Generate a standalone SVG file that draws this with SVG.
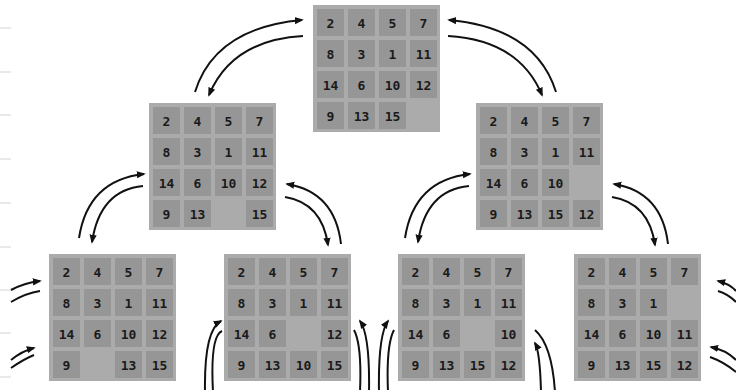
<svg xmlns="http://www.w3.org/2000/svg" width="736" height="390" viewBox="0 0 736 390">
<style>
.b{fill:#ababab}
.t{fill:#969696}
text{font-family:"DejaVu Sans Mono","Liberation Mono",monospace;font-weight:bold;font-size:13px;fill:#1a1a1a;text-anchor:middle}
.c{fill:none;stroke:#111;stroke-width:2}
.e{stroke:#d4d4d4;stroke-width:1}
</style>
<defs>
<marker id="ah" viewBox="0 0 10 10" refX="8" refY="5" markerWidth="9" markerHeight="9" orient="auto" markerUnits="userSpaceOnUse"><path d="M0,1 L10,5 L0,9 z" fill="#111"/></marker>
</defs>
<rect width="736" height="390" fill="#fff"/>
<g id="edge">
<line class="e" x1="0" y1="28" x2="11" y2="28"/><line class="e" x1="0" y1="72" x2="11" y2="72"/><line class="e" x1="0" y1="115" x2="11" y2="115"/><line class="e" x1="0" y1="159" x2="11" y2="159"/><line class="e" x1="0" y1="203" x2="11" y2="203"/><line class="e" x1="0" y1="247" x2="11" y2="247"/><line class="e" x1="0" y1="290" x2="11" y2="290"/><line class="e" x1="0" y1="333" x2="11" y2="333"/><line class="e" x1="0" y1="377" x2="11" y2="377"/>
</g>
<g id="top" transform="translate(313,5)">
<rect class="b" width="127" height="127"/>
<rect class="t" x="4" y="4" width="27" height="27"/><rect class="t" x="35" y="4" width="27" height="27"/><rect class="t" x="66" y="4" width="27" height="27"/><rect class="t" x="97" y="4" width="27" height="27"/>
<rect class="t" x="4" y="35" width="27" height="27"/><rect class="t" x="35" y="35" width="27" height="27"/><rect class="t" x="66" y="35" width="27" height="27"/><rect class="t" x="97" y="35" width="27" height="27"/>
<rect class="t" x="4" y="66" width="27" height="27"/><rect class="t" x="35" y="66" width="27" height="27"/><rect class="t" x="66" y="66" width="27" height="27"/><rect class="t" x="97" y="66" width="27" height="27"/>
<rect class="t" x="4" y="97" width="27" height="27"/><rect class="t" x="35" y="97" width="27" height="27"/><rect class="t" x="66" y="97" width="27" height="27"/>
<text x="17.5" y="22.5">2</text><text x="48.5" y="22.5">4</text><text x="79.5" y="22.5">5</text><text x="110.5" y="22.5">7</text>
<text x="17.5" y="53.5">8</text><text x="48.5" y="53.5">3</text><text x="79.5" y="53.5">1</text><text x="110.5" y="53.5">11</text>
<text x="17.5" y="84.5">14</text><text x="48.5" y="84.5">6</text><text x="79.5" y="84.5">10</text><text x="110.5" y="84.5">12</text>
<text x="17.5" y="115.5">9</text><text x="48.5" y="115.5">13</text><text x="79.5" y="115.5">15</text>
</g>
<g id="midLeft" transform="translate(149,103)">
<rect class="b" width="127" height="127"/>
<rect class="t" x="4" y="4" width="27" height="27"/><rect class="t" x="35" y="4" width="27" height="27"/><rect class="t" x="66" y="4" width="27" height="27"/><rect class="t" x="97" y="4" width="27" height="27"/>
<rect class="t" x="4" y="35" width="27" height="27"/><rect class="t" x="35" y="35" width="27" height="27"/><rect class="t" x="66" y="35" width="27" height="27"/><rect class="t" x="97" y="35" width="27" height="27"/>
<rect class="t" x="4" y="66" width="27" height="27"/><rect class="t" x="35" y="66" width="27" height="27"/><rect class="t" x="66" y="66" width="27" height="27"/><rect class="t" x="97" y="66" width="27" height="27"/>
<rect class="t" x="4" y="97" width="27" height="27"/><rect class="t" x="35" y="97" width="27" height="27"/><rect class="t" x="97" y="97" width="27" height="27"/>
<text x="17.5" y="22.5">2</text><text x="48.5" y="22.5">4</text><text x="79.5" y="22.5">5</text><text x="110.5" y="22.5">7</text>
<text x="17.5" y="53.5">8</text><text x="48.5" y="53.5">3</text><text x="79.5" y="53.5">1</text><text x="110.5" y="53.5">11</text>
<text x="17.5" y="84.5">14</text><text x="48.5" y="84.5">6</text><text x="79.5" y="84.5">10</text><text x="110.5" y="84.5">12</text>
<text x="17.5" y="115.5">9</text><text x="48.5" y="115.5">13</text><text x="110.5" y="115.5">15</text>
</g>
<g id="midRight" transform="translate(476,103)">
<rect class="b" width="127" height="127"/>
<rect class="t" x="4" y="4" width="27" height="27"/><rect class="t" x="35" y="4" width="27" height="27"/><rect class="t" x="66" y="4" width="27" height="27"/><rect class="t" x="97" y="4" width="27" height="27"/>
<rect class="t" x="4" y="35" width="27" height="27"/><rect class="t" x="35" y="35" width="27" height="27"/><rect class="t" x="66" y="35" width="27" height="27"/><rect class="t" x="97" y="35" width="27" height="27"/>
<rect class="t" x="4" y="66" width="27" height="27"/><rect class="t" x="35" y="66" width="27" height="27"/><rect class="t" x="66" y="66" width="27" height="27"/>
<rect class="t" x="4" y="97" width="27" height="27"/><rect class="t" x="35" y="97" width="27" height="27"/><rect class="t" x="66" y="97" width="27" height="27"/><rect class="t" x="97" y="97" width="27" height="27"/>
<text x="17.5" y="22.5">2</text><text x="48.5" y="22.5">4</text><text x="79.5" y="22.5">5</text><text x="110.5" y="22.5">7</text>
<text x="17.5" y="53.5">8</text><text x="48.5" y="53.5">3</text><text x="79.5" y="53.5">1</text><text x="110.5" y="53.5">11</text>
<text x="17.5" y="84.5">14</text><text x="48.5" y="84.5">6</text><text x="79.5" y="84.5">10</text>
<text x="17.5" y="115.5">9</text><text x="48.5" y="115.5">13</text><text x="79.5" y="115.5">15</text><text x="110.5" y="115.5">12</text>
</g>
<g id="bottom1" transform="translate(49,254)">
<rect class="b" width="127" height="127"/>
<rect class="t" x="4" y="4" width="27" height="27"/><rect class="t" x="35" y="4" width="27" height="27"/><rect class="t" x="66" y="4" width="27" height="27"/><rect class="t" x="97" y="4" width="27" height="27"/>
<rect class="t" x="4" y="35" width="27" height="27"/><rect class="t" x="35" y="35" width="27" height="27"/><rect class="t" x="66" y="35" width="27" height="27"/><rect class="t" x="97" y="35" width="27" height="27"/>
<rect class="t" x="4" y="66" width="27" height="27"/><rect class="t" x="35" y="66" width="27" height="27"/><rect class="t" x="66" y="66" width="27" height="27"/><rect class="t" x="97" y="66" width="27" height="27"/>
<rect class="t" x="4" y="97" width="27" height="27"/><rect class="t" x="66" y="97" width="27" height="27"/><rect class="t" x="97" y="97" width="27" height="27"/>
<text x="17.5" y="22.5">2</text><text x="48.5" y="22.5">4</text><text x="79.5" y="22.5">5</text><text x="110.5" y="22.5">7</text>
<text x="17.5" y="53.5">8</text><text x="48.5" y="53.5">3</text><text x="79.5" y="53.5">1</text><text x="110.5" y="53.5">11</text>
<text x="17.5" y="84.5">14</text><text x="48.5" y="84.5">6</text><text x="79.5" y="84.5">10</text><text x="110.5" y="84.5">12</text>
<text x="17.5" y="115.5">9</text><text x="79.5" y="115.5">13</text><text x="110.5" y="115.5">15</text>
</g>
<g id="bottom2" transform="translate(224,254)">
<rect class="b" width="127" height="127"/>
<rect class="t" x="4" y="4" width="27" height="27"/><rect class="t" x="35" y="4" width="27" height="27"/><rect class="t" x="66" y="4" width="27" height="27"/><rect class="t" x="97" y="4" width="27" height="27"/>
<rect class="t" x="4" y="35" width="27" height="27"/><rect class="t" x="35" y="35" width="27" height="27"/><rect class="t" x="66" y="35" width="27" height="27"/><rect class="t" x="97" y="35" width="27" height="27"/>
<rect class="t" x="4" y="66" width="27" height="27"/><rect class="t" x="35" y="66" width="27" height="27"/><rect class="t" x="97" y="66" width="27" height="27"/>
<rect class="t" x="4" y="97" width="27" height="27"/><rect class="t" x="35" y="97" width="27" height="27"/><rect class="t" x="66" y="97" width="27" height="27"/><rect class="t" x="97" y="97" width="27" height="27"/>
<text x="17.5" y="22.5">2</text><text x="48.5" y="22.5">4</text><text x="79.5" y="22.5">5</text><text x="110.5" y="22.5">7</text>
<text x="17.5" y="53.5">8</text><text x="48.5" y="53.5">3</text><text x="79.5" y="53.5">1</text><text x="110.5" y="53.5">11</text>
<text x="17.5" y="84.5">14</text><text x="48.5" y="84.5">6</text><text x="110.5" y="84.5">12</text>
<text x="17.5" y="115.5">9</text><text x="48.5" y="115.5">13</text><text x="79.5" y="115.5">10</text><text x="110.5" y="115.5">15</text>
</g>
<g id="bottom3" transform="translate(398,254)">
<rect class="b" width="127" height="127"/>
<rect class="t" x="4" y="4" width="27" height="27"/><rect class="t" x="35" y="4" width="27" height="27"/><rect class="t" x="66" y="4" width="27" height="27"/><rect class="t" x="97" y="4" width="27" height="27"/>
<rect class="t" x="4" y="35" width="27" height="27"/><rect class="t" x="35" y="35" width="27" height="27"/><rect class="t" x="66" y="35" width="27" height="27"/><rect class="t" x="97" y="35" width="27" height="27"/>
<rect class="t" x="4" y="66" width="27" height="27"/><rect class="t" x="35" y="66" width="27" height="27"/><rect class="t" x="97" y="66" width="27" height="27"/>
<rect class="t" x="4" y="97" width="27" height="27"/><rect class="t" x="35" y="97" width="27" height="27"/><rect class="t" x="66" y="97" width="27" height="27"/><rect class="t" x="97" y="97" width="27" height="27"/>
<text x="17.5" y="22.5">2</text><text x="48.5" y="22.5">4</text><text x="79.5" y="22.5">5</text><text x="110.5" y="22.5">7</text>
<text x="17.5" y="53.5">8</text><text x="48.5" y="53.5">3</text><text x="79.5" y="53.5">1</text><text x="110.5" y="53.5">11</text>
<text x="17.5" y="84.5">14</text><text x="48.5" y="84.5">6</text><text x="110.5" y="84.5">10</text>
<text x="17.5" y="115.5">9</text><text x="48.5" y="115.5">13</text><text x="79.5" y="115.5">15</text><text x="110.5" y="115.5">12</text>
</g>
<g id="bottom4" transform="translate(574,254)">
<rect class="b" width="127" height="127"/>
<rect class="t" x="4" y="4" width="27" height="27"/><rect class="t" x="35" y="4" width="27" height="27"/><rect class="t" x="66" y="4" width="27" height="27"/><rect class="t" x="97" y="4" width="27" height="27"/>
<rect class="t" x="4" y="35" width="27" height="27"/><rect class="t" x="35" y="35" width="27" height="27"/><rect class="t" x="66" y="35" width="27" height="27"/>
<rect class="t" x="4" y="66" width="27" height="27"/><rect class="t" x="35" y="66" width="27" height="27"/><rect class="t" x="66" y="66" width="27" height="27"/><rect class="t" x="97" y="66" width="27" height="27"/>
<rect class="t" x="4" y="97" width="27" height="27"/><rect class="t" x="35" y="97" width="27" height="27"/><rect class="t" x="66" y="97" width="27" height="27"/><rect class="t" x="97" y="97" width="27" height="27"/>
<text x="17.5" y="22.5">2</text><text x="48.5" y="22.5">4</text><text x="79.5" y="22.5">5</text><text x="110.5" y="22.5">7</text>
<text x="17.5" y="53.5">8</text><text x="48.5" y="53.5">3</text><text x="79.5" y="53.5">1</text>
<text x="17.5" y="84.5">14</text><text x="48.5" y="84.5">6</text><text x="79.5" y="84.5">10</text><text x="110.5" y="84.5">11</text>
<text x="17.5" y="115.5">9</text><text x="48.5" y="115.5">13</text><text x="79.5" y="115.5">15</text><text x="110.5" y="115.5">12</text>
</g>
<g id="connectors">
<path class="c" d="M195,92 Q215,28 302,20" marker-end="url(#ah)"/>
<path class="c" d="M303,36 Q232,40 209,95" marker-end="url(#ah)"/>
<path class="c" d="M556,92 Q536,28 449,20" marker-end="url(#ah)"/>
<path class="c" d="M448,36 Q519,40 542,95" marker-end="url(#ah)"/>
<path class="c" d="M79,238 Q88,180 144,174" marker-end="url(#ah)"/>
<path class="c" d="M143,186 Q100,190 92,242" marker-end="url(#ah)"/>
<path class="c" d="M341,244 Q335,192 287,184" marker-end="url(#ah)"/>
<path class="c" d="M285,197 Q322,203 328,245" marker-end="url(#ah)"/>
<path class="c" d="M405,238 Q414,180 470,174" marker-end="url(#ah)"/>
<path class="c" d="M469,186 Q426,190 418,242" marker-end="url(#ah)"/>
<path class="c" d="M668,244 Q662,192 614,184" marker-end="url(#ah)"/>
<path class="c" d="M612,197 Q649,203 655,245" marker-end="url(#ah)"/>
<path class="c" d="M11,290 Q24,283 40,281" marker-end="url(#ah)"/>
<path class="c" d="M40,291 Q26,293 11,302"/>
<path class="c" d="M11,360 Q22,351 34,348" marker-end="url(#ah)"/>
<path class="c" d="M34,355 Q24,359 11,368"/>
<path class="c" d="M736,291 Q730,284 718,281" marker-end="url(#ah)"/>
<path class="c" d="M718,291 Q728,294 736,302"/>
<path class="c" d="M736,360 Q726,350 711,347" marker-end="url(#ah)"/>
<path class="c" d="M710,357 Q724,362 736,372"/>
<path class="c" d="M205,392 Q204,330 221,321" marker-end="url(#ah)"/>
<path class="c" d="M222,331 Q210,336 213,392"/>
<path class="c" d="M369,392 Q370,335 360,321" marker-end="url(#ah)"/>
<path class="c" d="M354,330 Q362,345 360,392"/>
<path class="c" d="M379,392 Q378,335 388,321" marker-end="url(#ah)"/>
<path class="c" d="M394,330 Q386,345 388,392"/>
<path class="c" d="M535,330 Q552,345 555,392"/>
<path class="c" d="M541,392 Q540,352 535,343" marker-end="url(#ah)"/>
</g>
</svg>
